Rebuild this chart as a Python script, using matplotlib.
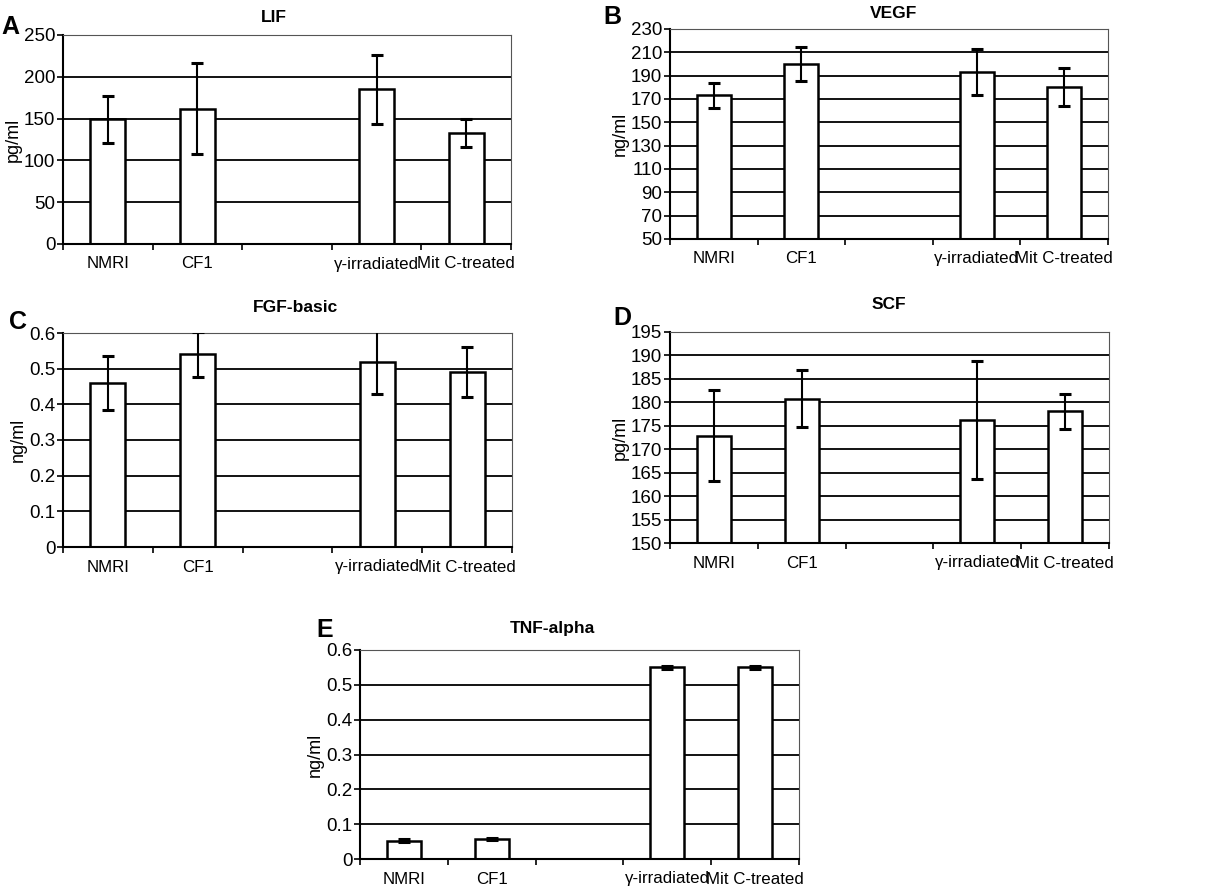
import matplotlib
matplotlib.use("Agg")
import matplotlib.pyplot as plt
import matplotlib.transforms as mtransforms
import numpy as np

plt.rcParams['font.family'] = ['Liberation Sans', 'DejaVu Sans']

categories = ["NMRI", "CF1", "", "γ-irradiated", "Mit C-treated"]

lif_mean = [149, 162, None, 185, 133]
lif_err = [28, 54, None, 41, 17]

vegf_mean = [173, 200, None, 193, 180]
vegf_err = [11, 14.5, None, 19.7, 16.3]

fgf_mean = [0.46, 0.54, None, 0.52, 0.49]
fgf_err = [0.075, 0.063, None, 0.09, 0.07]

scf_mean = [172.9, 180.8, None, 176.2, 178.1]
scf_err = [9.7, 6.0, None, 12.6, 3.7]

tnf_mean = [0.052, 0.058, None, 0.55, 0.55]
tnf_err = [0.004, 0.003, None, 0.005, 0.005]

W, H = 1215, 889

panels = [
    dict(letter="A", title="LIF", ylabel="pg/ml", mean=lif_mean, err=lif_err,
         ylim=(0, 250), ticks=np.arange(0, 251, 50), fmt="{:.0f}",
         box=(63, 35, 511, 244), lpos=(1, 15), tpos=(274, 18)),
    dict(letter="B", title="VEGF", ylabel="ng/ml", mean=vegf_mean, err=vegf_err,
         ylim=(50, 230), ticks=np.arange(50, 231, 20), fmt="{:.0f}",
         box=(670, 29, 1108, 239), lpos=(603, 5), tpos=(894, 13)),
    dict(letter="C", title="FGF-basic", ylabel="ng/ml", mean=fgf_mean, err=fgf_err,
         ylim=(0, 0.6), ticks=np.arange(0, 0.61, 0.1), fmt="{:.1f}",
         box=(63, 333, 512, 547), lpos=(9, 310), tpos=(296, 307)),
    dict(letter="D", title="SCF", ylabel="pg/ml", mean=scf_mean, err=scf_err,
         ylim=(150, 195), ticks=np.arange(150, 196, 5), fmt="{:.0f}",
         box=(670, 332, 1109, 543), lpos=(613, 306), tpos=(889, 305)),
    dict(letter="E", title="TNF-alpha", ylabel="ng/ml", mean=tnf_mean, err=tnf_err,
         ylim=(0, 0.6), ticks=np.arange(0, 0.61, 0.1), fmt="{:.1f}",
         box=(360, 650, 799, 859), lpos=(316, 618), tpos=(552, 628)),
]

# horizontal nudges (pixels) for the category labels, as in the original layout
label_shift = [0, 0, 0, -7, 7]

fig = plt.figure(figsize=(W / 100, H / 100), dpi=100)

for p in panels:
    x0, y0, x1, y1 = p["box"]
    ax = fig.add_axes([x0 / W, 1 - y1 / H, (x1 - x0) / W, (y1 - y0) / H])
    x = np.arange(len(categories))
    idx = [i for i, m in enumerate(p["mean"]) if m is not None]
    xs = [x[i] for i in idx]
    ms = [p["mean"][i] for i in idx]
    es = [p["err"][i] for i in idx]
    base = p["ylim"][0]
    ax.bar(xs, [m - base for m in ms], bottom=base, width=0.39, color="white",
           edgecolor="black", linewidth=1.8, zorder=2)
    ax.errorbar(xs, ms, yerr=es, fmt="none", ecolor="black", elinewidth=1.5,
                capsize=4.3, capthick=2.2, zorder=3)
    ax.set_xlim(-0.5, len(categories) - 0.5)
    ax.set_ylim(*p["ylim"])
    ax.set_yticks(p["ticks"])
    ax.set_yticklabels([p["fmt"].format(t) if t != 0 else "0" for t in p["ticks"]])
    ax.yaxis.grid(True, color="black", linewidth=1.3)
    ax.set_axisbelow(True)
    ax.set_xticks(x)
    ax.set_xticklabels(categories, fontsize=12.2)
    for lab, dx in zip(ax.get_xticklabels(), label_shift):
        lab.set_transform(lab.get_transform() +
                          mtransforms.ScaledTranslation(dx / 100, 0, fig.dpi_scale_trans))
    ax.set_xticks(np.arange(-0.5, len(categories), 1.0), minor=True)
    ax.tick_params(axis="x", which="major", length=0, pad=9)
    ax.tick_params(axis="x", which="minor", length=4, width=1.2, direction="out")
    ax.tick_params(axis="y", which="major", length=4, width=1.2, labelsize=13.5, pad=1.5)
    for s in ["left", "bottom"]:
        ax.spines[s].set_linewidth(1.5)
    for s in ["top", "right"]:
        ax.spines[s].set_linewidth(0.8)
        ax.spines[s].set_color("#555555")
    ax.set_ylabel(p["ylabel"], fontsize=13, labelpad=1.5)
    fig.text(p["tpos"][0] / W, 1 - p["tpos"][1] / H, p["title"], fontsize=12.5,
             fontweight="bold", ha="center", va="center")
    fig.text(p["lpos"][0] / W, 1 - p["lpos"][1] / H, p["letter"], fontsize=18,
             fontweight="bold", ha="left", va="top")

fig.savefig("out.png", dpi=100, facecolor="white")
